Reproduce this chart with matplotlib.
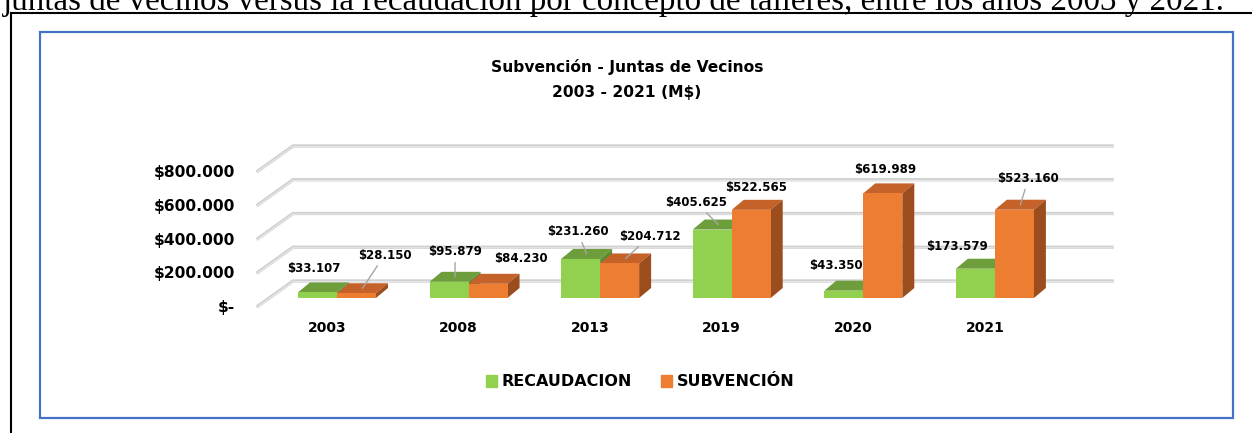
import matplotlib
matplotlib.use('Agg')
import matplotlib.pyplot as plt
from matplotlib.patches import Polygon, Rectangle, Patch
from matplotlib.lines import Line2D
from matplotlib.ticker import FuncFormatter

# data
years = ['2003', '2008', '2013', '2019', '2020', '2021']
recaudacion = [33107, 95879, 231260, 405625, 43350, 173579]
subvencion = [28150, 84230, 204712, 522565, 619989, 523160]
y_ticks = [0, 200000, 400000, 600000, 800000]

# where Excel put the data labels (pixels from the bar top) and which have leader lines
rec_lbl_off = [(-10, 19), (0, 25), (-9, 22), (-22, 22), (-14, 20), (-24, 17)]
sub_lbl_off = [(22, 33), (27, 20), (24, 22), (-1, 17), (-4, 19), (8, 26)]
rec_leader = [False, True, True, True, False, False]
sub_leader = [True, False, True, False, False, True]

GREEN, GREEN_TOP, GREEN_SIDE = '#92D050', '#6E9E3C', '#5E8A30'
ORANGE, ORANGE_TOP, ORANGE_SIDE = '#ED7D31', '#C4622A', '#9C4D1D'
GRID = '#D0D0D0'

plt.rcParams['font.family'] = 'DejaVu Sans'
plt.rcParams['font.weight'] = 'bold'

W, H = 1252, 433
fig = plt.figure(figsize=(W / 100, H / 100), dpi=100)
fig.patch.set_facecolor('white')


def fx(px):
    return px / W


def fy(py):
    return 1 - py / H


# front plane of the 3d chart
ax = fig.add_axes([fx(258), fy(306), (1077 - 258) / W, (306 - 171) / H])
ax.set_xlim(-0.524, 5.70)
ax.set_ylim(0, 800000)
ax.patch.set_alpha(0)
for s in ax.spines.values():
    s.set_visible(False)

# size of one pixel in data units
ux = (5.70 + 0.524) / (1077 - 258)
uy = 800000 / (306 - 171)

# back wall / side wall grid
x0, x1 = ax.get_xlim()
wall_dx, wall_dy = 35 * ux, 25 * uy
for v in y_ticks:
    xs = [x0, x0 + wall_dx, x1 + wall_dx]
    ys = [v, v + wall_dy, v + wall_dy]
    ax.plot(xs, ys, color=GRID, lw=2.4, clip_on=False, zorder=1, solid_joinstyle='miter')
    ax.plot(xs, [y - 0.6 * uy for y in ys], color='#EBEBEB', lw=0.7, clip_on=False, zorder=1.1)

# bars
shift_x, base = 10 * ux, 8 * uy
bw = 39 * ux
ddx, ddy = 12 * ux, 10 * uy


def box(left, val, top, side, z):
    right = left + bw
    h = base + val
    ax.add_patch(Polygon([(left, h), (right, h), (right + ddx, h + ddy), (left + ddx, h + ddy)],
                         closed=True, facecolor=top, edgecolor='none', zorder=z, clip_on=False))
    ax.add_patch(Polygon([(right, base), (right, h), (right + ddx, h + ddy), (right + ddx, base + ddy)],
                         closed=True, facecolor=side, edgecolor='none', zorder=z, clip_on=False))


gx = [i + shift_x - bw for i in range(len(years))]
ox = [i + shift_x for i in range(len(years))]
for i in range(len(years)):
    box(gx[i], recaudacion[i], GREEN_TOP, GREEN_SIDE, 2)
    box(ox[i], subvencion[i], ORANGE_TOP, ORANGE_SIDE, 4)
ax.bar(gx, recaudacion, width=bw, bottom=base, align='edge', color=GREEN, zorder=3, clip_on=False)
ax.bar(ox, subvencion, width=bw, bottom=base, align='edge', color=ORANGE, zorder=5, clip_on=False)


def money(v):
    return '$' + f'{v:,.0f}'.replace(',', '.')


# data labels
for xs, vals, offs, leads in [(gx, recaudacion, rec_lbl_off, rec_leader),
                              (ox, subvencion, sub_lbl_off, sub_leader)]:
    for x, v, off, lead in zip(xs, vals, offs, leads):
        anchor = (x + bw / 2 + ddx / 2, base + v + ddy / 2)
        arrow = dict(arrowstyle='-', color='#A6A6A6', lw=1.0, shrinkA=1, shrinkB=0) if lead else None
        ax.annotate(money(v), xy=anchor, xytext=off, textcoords='offset pixels',
                    ha='center', va='center', fontsize=8.5, fontweight='bold',
                    arrowprops=arrow, zorder=6, annotation_clip=False)

ax.set_yticks(y_ticks)
ax.yaxis.set_major_formatter(FuncFormatter(lambda v, p: '$-' if v == 0 else money(v)))
ax.tick_params(axis='y', length=0, pad=16.5, labelsize=11.2)
ax.set_xticks(range(len(years)), years)
ax.tick_params(axis='x', length=0, pad=10.5, labelsize=10)

# title
fig.text(fx(627), fy(67), 'Subvención - Juntas de Vecinos', ha='center', va='center', fontsize=11.2)
fig.text(fx(627), fy(92), '2003 - 2021 (M$)', ha='center', va='center', fontsize=11.2)

# legend
fig.legend(handles=[Patch(color=GREEN), Patch(color=ORANGE)], labels=['RECAUDACION', 'SUBVENCIÓN'],
           loc='center', bbox_to_anchor=(fx(640), fy(382)), ncol=2, frameon=False,
           handlelength=0.7, handleheight=0.7, handletextpad=0.3, columnspacing=1.8,
           prop={'size': 11.5, 'weight': 'bold'})

# chart frame and page border
fig.add_artist(Rectangle((fx(40), fy(418)), (1233 - 40) / W, (418 - 32) / H, transform=fig.transFigure,
                         fill=False, edgecolor='#4472C4', lw=1.6))
fig.add_artist(Line2D([fx(11), fx(11)], [fy(13), 0], color='black', lw=1.5))
fig.add_artist(Line2D([fx(11), 1], [fy(13), fy(13)], color='black', lw=1.5))

# tail of the report paragraph above the chart (cut by the page crop)
fig.text(fx(3), fy(10), 'juntas de vecinos versus la recaudación por concepto de talleres, entre los años 2003 y 2021.',
         ha='left', va='baseline', family='Liberation Serif', fontweight='normal', fontsize=23.8)

fig.savefig('out.png', dpi=100)
